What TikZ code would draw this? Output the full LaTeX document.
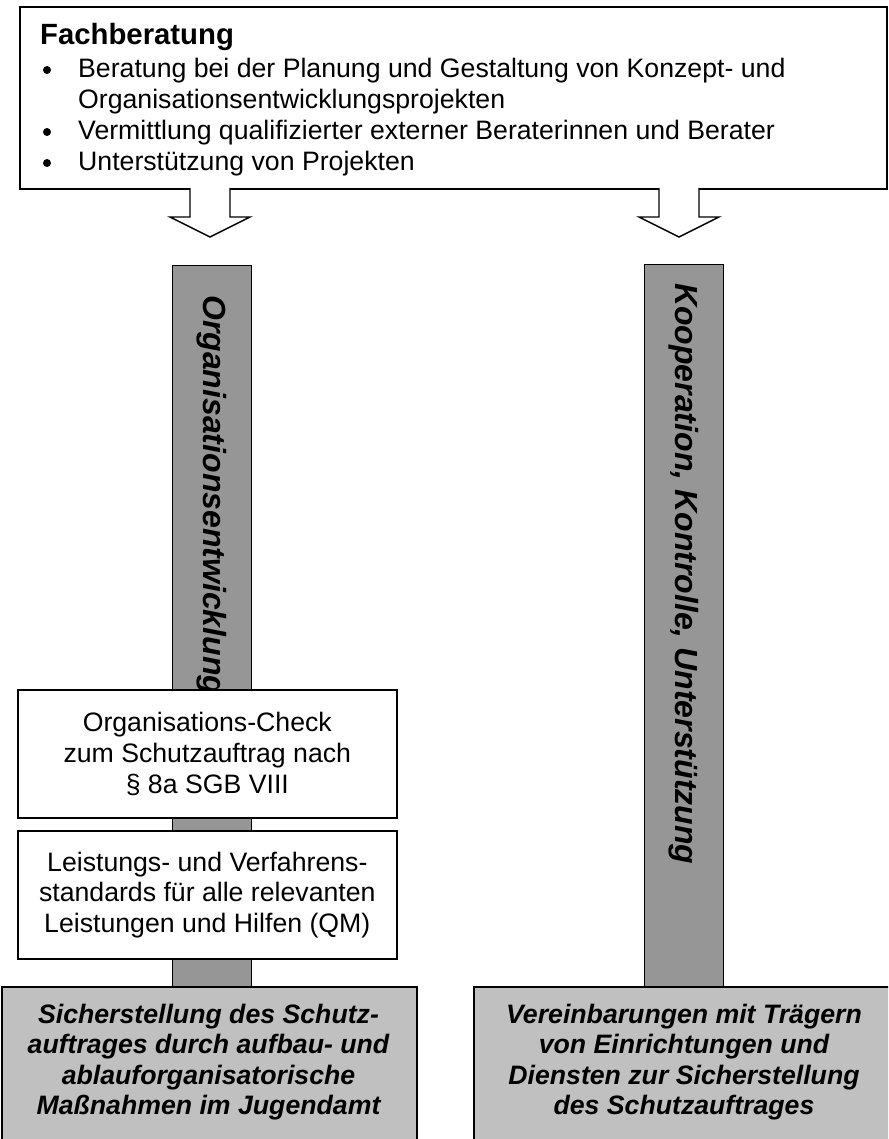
\documentclass[tikz,border=0pt]{standalone}
\usepackage{fontspec}
\setmainfont{Liberation Sans}
\definecolor{pillgray}{RGB}{150,150,150}
\definecolor{basegray}{RGB}{192,192,192}
\begin{document}
\begin{tikzpicture}[x=1pt,y=-1pt,
  box/.style={draw, line width=1.6pt, fill=white, inner sep=0pt, anchor=north west},
  pillar/.style={draw, line width=1.4pt, fill=pillgray, inner sep=0pt, anchor=north west},
  basebox/.style={draw, line width=1.6pt, fill=basegray, inner sep=0pt, anchor=north west},
  txt/.style={font=\fontsize{26.67}{30.67}\selectfont, inner sep=0pt},
  head/.style={font=\fontsize{29.3}{33}\selectfont\bfseries, inner sep=0pt},
  vtxt/.style={font=\fontsize{32}{36}\selectfont\bfseries\itshape, inner sep=0pt},
  btxt/.style={font=\fontsize{26.67}{30.5}\selectfont\bfseries\itshape, inner sep=0pt, align=center},
  blockarrow/.style={draw, line width=1.4pt, fill=white, line join=miter},
  dot/.style={fill=black}]
\path[use as bounding box] (0,0) rectangle (888,1139);
\clip (0,0) rectangle (888,1139);

% top box
\node[box, minimum width=867pt, minimum height=182pt] (top) at (19,6) {};
\node[head, anchor=base west] (fb) at (40,45) {Fachberatung};
\fill[dot] (47,70) circle (4pt);
\fill[dot] (47,132) circle (4pt);
\fill[dot] (47,163) circle (4pt);
\node[txt, anchor=base west] (b1) at (78,78) {Beratung bei der Planung und Gestaltung von Konzept- und};
\node[txt, anchor=base west] (b1b) at (78,109) {Organisationsentwicklungsprojekten};
\node[txt, anchor=base west] (b2) at (78,140) {Vermittlung qualifizierter externer Beraterinnen und Berater};
\node[txt, anchor=base west] (b3) at (78,171) {Unterstützung von Projekten};

% block arrows
\coordinate (aL) at (210,188);
\coordinate (aR) at (679,188);
\draw[blockarrow] (aL) ++(-20,0) -- ++(0,29) -- ++(-20,0) -- ++(40,20) -- ++(40,-20) -- ++(-20,0) -- ++(0,-29);
\draw[blockarrow] (aR) ++(-20,0) -- ++(0,29) -- ++(-20,0) -- ++(40,20) -- ++(40,-20) -- ++(-20,0) -- ++(0,-29);

% pillars
\node[pillar, minimum width=79pt, minimum height=721pt] (pL) at (172,265) {};
\node[pillar, minimum width=79pt, minimum height=722pt] (pR) at (644,264) {};
\node[vtxt, anchor=west, rotate=-90] (tL) at (211.5,295) {Organisationsentwicklung};
\node[vtxt, anchor=west, rotate=-90] (tR) at (683.5,283) {Kooperation, Kontrolle, Unterstützung};

% left boxes
\node[box, minimum width=379pt, minimum height=128pt] (chk) at (17,689) {};
\node[txt, align=center] (chkT) at (chk.center) {Organisations-Check\\zum Schutzauftrag nach\\§ 8a SGB VIII};
\node[box, minimum width=379pt, minimum height=128pt] (lst) at (17,830) {};
\node[txt, align=center] (lstT) at (lst.center) {Leistungs- und Verfahrens-\\standards für alle relevanten\\Leistungen und Hilfen (QM)};

% bottom boxes
\node[basebox, minimum width=415pt, minimum height=170pt] (bL) at (1,986) {};
\node[btxt] (bLT) at (208.5,1062) {Sicherstellung des Schutz-\\auftrages durch aufbau- und\\ablauforganisatorische\\Maßnahmen im Jugendamt};
\node[basebox, minimum width=420pt, minimum height=170pt] (bR) at (473,986) {};
\node[btxt] (bRT) at (684,1062) {Vereinbarungen mit Trägern\\von Einrichtungen und\\Diensten zur Sicherstellung\\des Schutzauftrages};
\end{tikzpicture}
\end{document}
